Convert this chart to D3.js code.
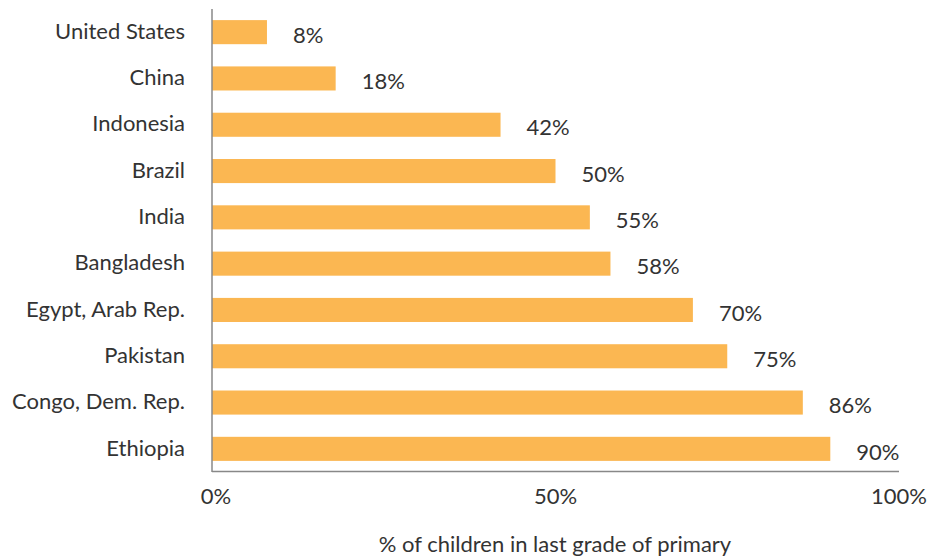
<!DOCTYPE html>
<html><head><meta charset="utf-8">
<script src="https://cdn.jsdelivr.net/npm/d3@7"></script>
<style>body{margin:0;background:#fff}text{font-family:Lato,"Open Sans",sans-serif;fill:#333}</style>
</head><body><svg id="c" width="935" height="559"></svg>
<script>
const categories = ["United States","China","Indonesia","Brazil","India","Bangladesh","Egypt, Arab Rep.","Pakistan","Congo, Dem. Rep.","Ethiopia"];
const values = [8,18,42,50,55,58,70,75,86,90];
const tickValues = [0,50,100];
const axisTitle = "% of children in last grade of primary";

const svg = d3.select("#c");
const x = d3.scaleLinear().domain([0,100]).range([212,899]);
const y = d3.scaleBand().domain(categories).range([9,472]).paddingInner(0.48).paddingOuter(0.24);

svg.selectAll("rect.bar").data(categories).join("rect")
  .attr("x", x(0)).attr("y", d=>y(d))
  .attr("width", (d,i)=>x(values[i])-x(0)).attr("height", y.bandwidth())
  .attr("fill","#FBB752");

svg.append("line").attr("x1",x(0)).attr("x2",x(0)).attr("y1",9).attr("y2",472).attr("stroke","#888").attr("stroke-width",1.5);
svg.append("line").attr("x1",x(0)).attr("x2",x(100)).attr("y1",471.5).attr("y2",471.5).attr("stroke","#888").attr("stroke-width",1.5);

svg.selectAll("text.cat").data(categories).join("text")
  .attr("x",185).attr("y",d=>y(d)+y.bandwidth()/2-1).attr("dy","0.35em")
  .attr("text-anchor","end").attr("font-size",22).text(d=>d);

svg.selectAll("text.val").data(categories).join("text")
  .attr("x",(d,i)=>x(values[i])+26).attr("y",d=>y(d)+y.bandwidth()/2+3).attr("dy","0.35em")
  .attr("font-size",22).text((d,i)=>values[i]+"%");

svg.selectAll("text.tick").data(tickValues).join("text")
  .attr("x",d=>x(d)+(d===0?4:0)).attr("y",496).attr("dy","0.35em")
  .attr("text-anchor","middle").attr("font-size",22).text(d=>d+"%");

svg.append("text").attr("x",555).attr("y",544).attr("dy","0.35em").attr("text-anchor","middle")
  .attr("font-size",22).text(axisTitle);
</script></body></html>
